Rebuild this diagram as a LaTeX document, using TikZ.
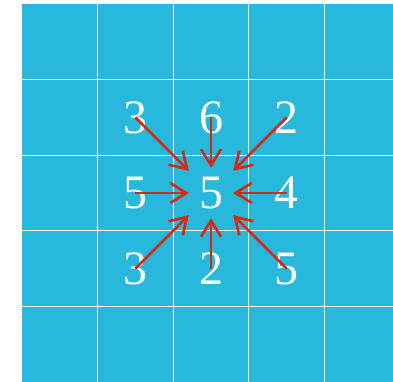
\documentclass[tikz,border=0pt]{standalone}
\usepackage{fontspec}
\setmainfont{Liberation Serif}
\usepackage{xcolor}
\definecolor{cellblue}{HTML}{27B8DC}
\definecolor{arrowred}{HTML}{D42B10}
\usetikzlibrary{arrows.meta}

\begin{document}
\begin{tikzpicture}[x=1pt,y=1pt,
  num/.style={text=white,font=\fontsize{48}{48}\selectfont,inner sep=0pt},
  center/.style={num,minimum width=44pt,minimum height=50pt},
  gridline/.style={draw=white,line width=1.2pt},
  pull/.style={arrowred,line width=2.7pt,-{Straight Barb[length=16pt,width=20pt]}}]
  \clip (0,0) rectangle (393,382);
  \fill[cellblue] (22,0) rectangle (400,378);
  % grid lines
  \foreach \k in {1,...,4} {
    \draw[gridline] (22+75.6*\k,0) -- (22+75.6*\k,378);
    \draw[gridline] (22,378-75.6*\k) -- (400,378-75.6*\k);
  }
  % values
  \node[center] (c) at (211,189) {5};
  \node[num] (nw) at (135.4,264.6) {3};
  \node[num] (n)  at (211,264.6)   {6};
  \node[num] (ne) at (286.6,264.6) {2};
  \node[num] (w)  at (135.4,189)   {5};
  \node[num] (e)  at (286.6,189)   {4};
  \node[num] (sw) at (135.4,113.4) {3};
  \node[num] (s)  at (211,113.4)   {2};
  \node[num] (se) at (286.6,113.4) {5};
  \foreach \nb in {nw,n,ne,w,e,sw,s,se}
    \draw[pull] (\nb.center) -- (c);
\end{tikzpicture}
\end{document}
